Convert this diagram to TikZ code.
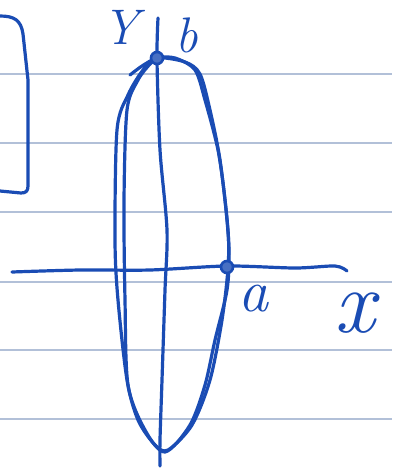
\documentclass[tikz,border=0pt]{standalone}
\usepackage{fontspec}
\definecolor{inkblue}{RGB}{26,76,180}
\definecolor{rulecol}{RGB}{178,192,216}
\begin{document}
\begin{tikzpicture}[x=1pt,y=-1pt,
  ink/.style={draw=inkblue,line width=3.2pt,line cap=round,line join=round},
  ruleline/.style={draw=rulecol,line width=1.3pt},
  lab/.style={text=inkblue,inner sep=0pt,anchor=base},
  dotmark/.style={circle,draw=inkblue,line width=2.6pt,fill=inkblue!80,minimum size=12pt,inner sep=0pt}]
\useasboundingbox (0,0) rectangle (392,472);
\fill[white] (0,0) rectangle (392,472);
% ruled paper
\foreach \yy in {74,143,212,282,350,419} \draw[ruleline] (0,\yy) -- (392,\yy);
% box at left
\draw[ink] (0,16) .. controls (14,16) and (21,20) .. (23,34) -- (28,80) -- (28,186) .. controls (28,191) and (26,193) .. (21,193) -- (0,191);
% axes
\coordinate (xstart) at (12,272);
\coordinate (xend) at (347,271);
\coordinate (ytop) at (158,18);
\coordinate (ybot) at (160,466);
\draw[ink] plot[smooth] coordinates {(xstart) (80,270) (150,270) (227,266) (295,268) (335,266) (xend)};
\draw[ink] plot[smooth] coordinates {(ytop) (157,60) (160,150) (167,230) (165,290) (162,380) (160,440) (ybot)};
% ellipses
\draw[ink] plot[smooth cycle] coordinates {(157,58) (185,62) (200,74) (210,110) (220,160) (228,230) (228,268) (222,320) (210,380) (192,425) (168,450) (155,445) (138,420) (127,380) (118,300) (115,240) (117,130) (128,95) (143,70)};
\draw[ink] plot[smooth] coordinates {(130,75) (142,66) (157,58) (175,58) (195,70) (205,100) (218,150) (225,200) (229,250) (227,290) (215,340) (205,385) (190,425) (165,452) (145,430) (128,385) (125,300) (124,200) (127,110) (138,80) (150,64) (157,58)};
% points
\node[dotmark] (pb) at (157,58) {};
\node[dotmark] (pa) at (227,267) {};
% labels
\node[lab,font=\fontsize{50}{50}\selectfont\itshape] (ly) at (121,44) {Y};
\node[lab,font=\fontsize{50}{50}\selectfont\itshape] (lb) at (187,52) {b};
\node[lab,font=\fontsize{60}{60}\selectfont\itshape] (la) at (253,311) {a};
\node[lab,font=\fontsize{90}{90}\selectfont\itshape] (lx) at (355,332) {x};
\end{tikzpicture}
\end{document}
